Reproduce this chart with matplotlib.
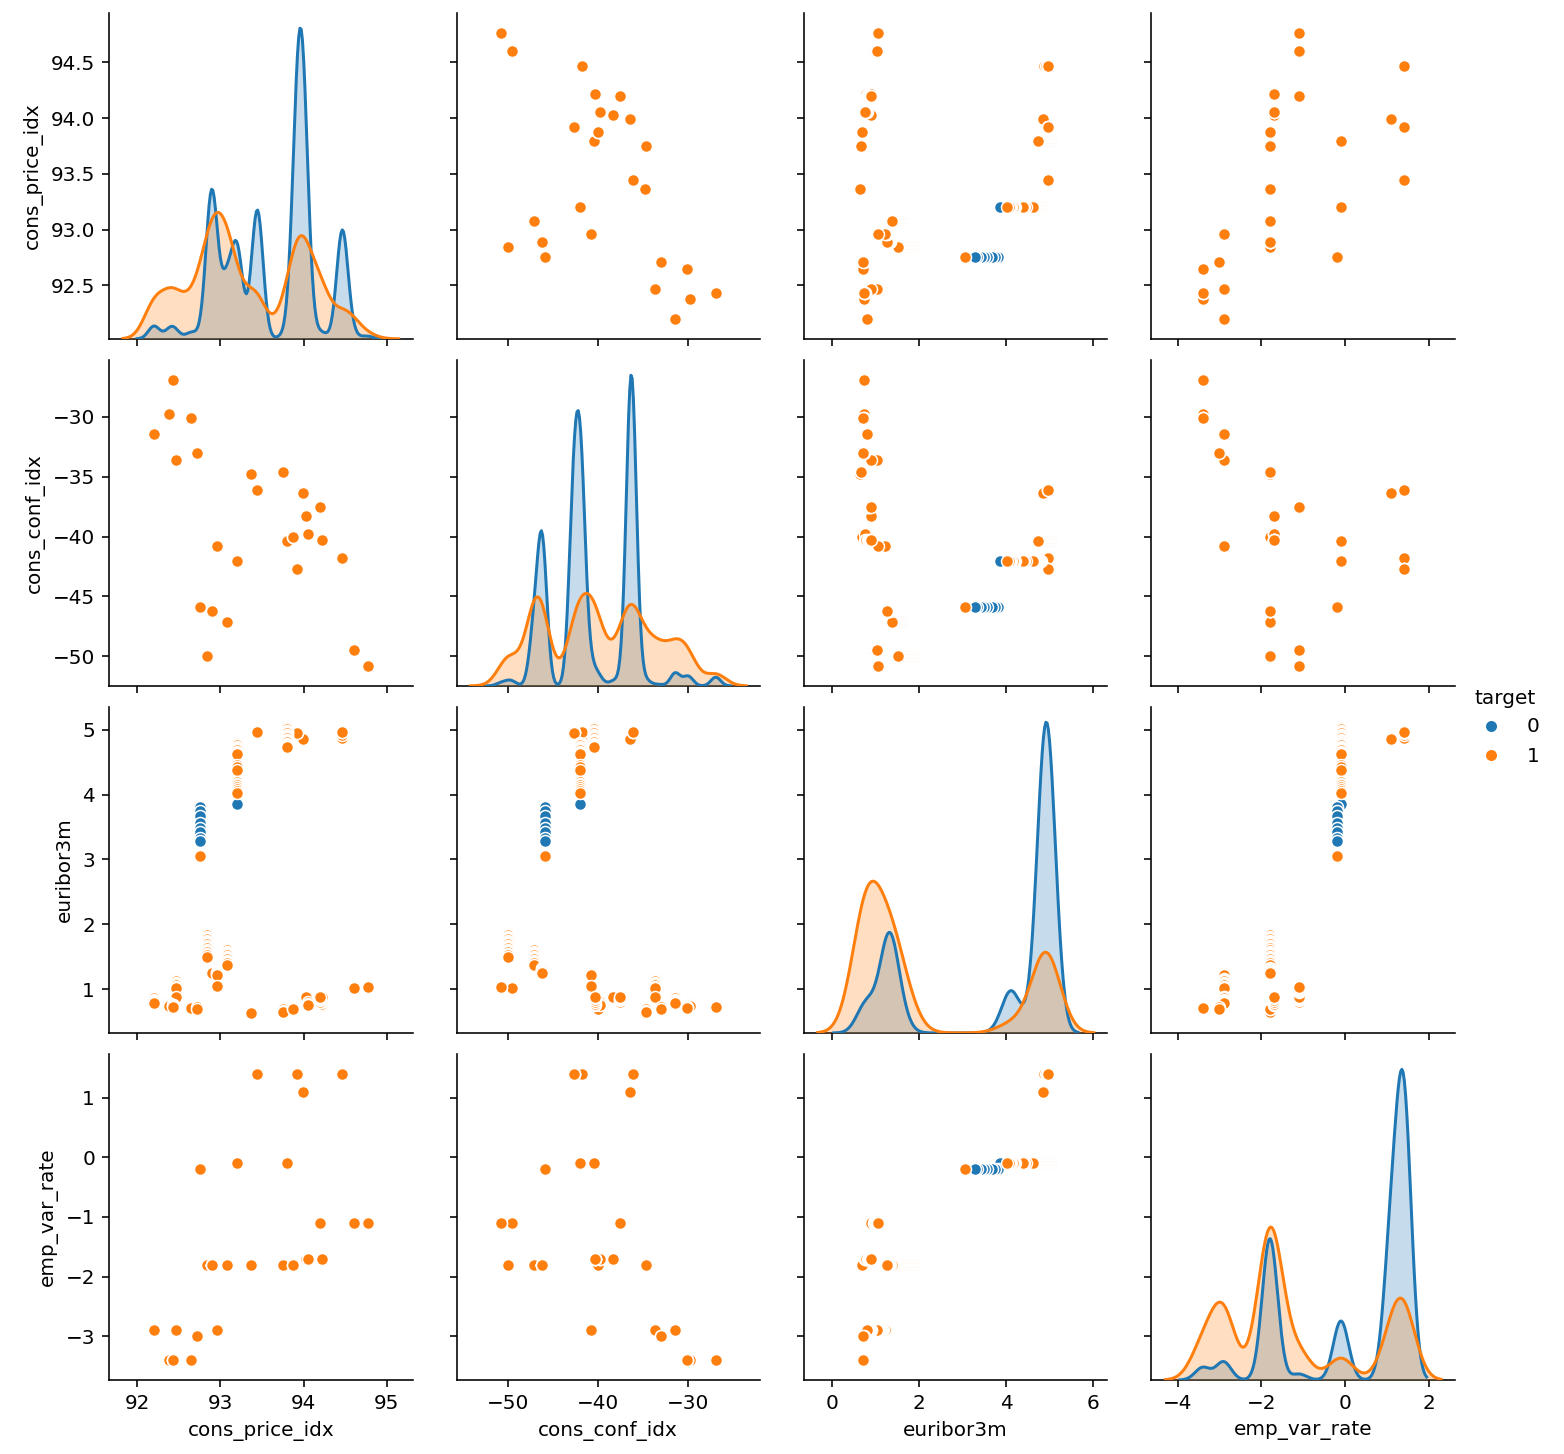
import numpy as np
import matplotlib
matplotlib.use("Agg")
import matplotlib.pyplot as plt
from matplotlib.lines import Line2D

# one entry per campaign month, in date order (May 2008 -> Nov 2010)
cons_price_idx = [93.994, 94.465, 93.918, 93.444, 93.798, 93.2, 92.756, 92.843, 93.075,
                  92.893, 92.963, 92.469, 92.201, 92.379, 92.431, 92.649, 92.713, 93.369,
                  93.749, 93.876, 94.027, 94.055, 94.215, 94.199, 94.601, 94.767]
cons_conf_idx = [-36.4, -41.8, -42.7, -36.1, -40.4, -42.0, -45.9, -50.0, -47.1,
                 -46.2, -40.8, -33.6, -31.4, -29.8, -26.9, -30.1, -33.0, -34.8,
                 -34.6, -40.0, -38.3, -39.8, -40.3, -37.5, -49.5, -50.8]
emp_var_rate = [1.1, 1.4, 1.4, 1.4, -0.1, -0.1, -0.2, -1.8, -1.8,
                -1.8, -2.9, -2.9, -2.9, -3.4, -3.4, -3.4, -3.0, -1.8,
                -1.8, -1.8, -1.7, -1.7, -1.7, -1.1, -1.1, -1.1]

# euribor3m values seen inside each month, in the order the rows appear
euribor3m = [
    [4.866, 4.864, 4.86, 4.857, 4.855],
    [4.86, 4.866, 4.912, 4.96, 4.961, 4.962, 4.967],
    [4.968, 4.962, 4.958, 4.955],
    [4.968, 4.966, 4.963],
    [5.045, 5.025, 5.005, 4.985, 4.965, 4.945, 4.925, 4.905, 4.885, 4.865, 4.845,
     4.825, 4.805, 4.785, 4.765, 4.745, 4.73],
    [4.8, 4.78, 4.76, 4.74, 4.72, 4.70, 4.68, 4.66, 4.64, 4.62, 4.45, 4.42, 4.38,
     4.2, 4.17, 4.15, 4.12, 4.09, 4.06, 4.03, 3.853],
    [3.816, 3.743, 3.669, 3.563, 3.488, 3.428, 3.329, 3.282, 3.053],
    [1.85, 1.83, 1.81, 1.79, 1.77, 1.75, 1.73, 1.71, 1.69, 1.67, 1.65, 1.63,
     1.61, 1.59, 1.57, 1.55, 1.53, 1.50],
    [1.6, 1.58, 1.56, 1.54, 1.52, 1.50, 1.48, 1.46, 1.44, 1.42, 1.40, 1.37],
    [1.334, 1.313, 1.299, 1.291, 1.281, 1.266, 1.25],
    [1.262, 1.25, 1.235, 1.22, 1.05],
    [1.16, 1.14, 1.12, 1.10, 1.08, 1.06, 1.04, 1.02, 0.88],
    [0.884, 0.861, 0.84, 0.82, 0.80, 0.79],
    [0.79, 0.77, 0.75, 0.74],
    [0.76, 0.75, 0.74, 0.73],
    [0.73, 0.72, 0.71],
    [0.72, 0.70],
    [0.655, 0.646, 0.635],
    [0.69, 0.67, 0.65],
    [0.704, 0.697, 0.69],
    [0.86, 0.87, 0.885],
    [0.8, 0.78, 0.75],
    [0.75, 0.78, 0.81, 0.84, 0.87, 0.88],
    [0.8, 0.83, 0.85, 0.87, 0.884],
    [0.95, 0.97, 0.99, 1.0, 1.02],
    [1.03, 1.04],
]

# number of clients per euribor value, target = 0
count_no = [
    [1480, 1480, 1480, 1480, 1480],
    [500, 500, 500, 700, 700, 700, 600],
    [1600, 1600, 1600, 1600],
    [1600, 1650, 1650],
    [2, 2, 2, 2, 2, 2, 2, 2, 2, 2, 2, 2, 2, 2, 2, 2, 1],
    [8, 8, 8, 8, 8, 8, 8, 8, 10, 20, 30, 30, 30, 300, 400, 450, 500, 500, 500, 400, 110],
    [1, 1, 1, 1, 1, 1, 1, 2, 0],
    [6, 6, 6, 6, 6, 6, 6, 6, 6, 6, 6, 6, 6, 6, 6, 6, 7, 7],
    [130, 140, 150, 160, 160, 170, 170, 170, 170, 170, 170, 180],
    [700, 800, 900, 900, 800, 700, 550],
    [100, 100, 100, 100, 90],
    [4, 4, 4, 4, 4, 4, 4, 4, 3],
    [80, 80, 80, 80, 85, 85],
    [38, 38, 38, 39],
    [80, 80, 85, 85],
    [76, 76, 78],
    [15, 15],
    [50, 50, 50],
    [25, 25, 25],
    [33, 33, 34],
    [53, 53, 54],
    [52, 52, 51],
    [21, 21, 22, 22, 22, 22],
    [24, 24, 24, 24, 24],
    [24, 24, 24, 24, 24],
    [50, 50],
]

# number of clients per euribor value, target = 1
count_yes = [
    [69, 69, 69, 68, 68],
    [24, 24, 24, 25, 25, 25, 25],
    [72, 72, 71, 71],
    [86, 86, 86],
    [3, 3, 3, 3, 3, 3, 3, 3, 2, 2, 2, 2, 2, 2, 2, 2, 2],
    [6, 6, 6, 6, 6, 6, 6, 6, 6, 12, 10, 10, 10, 14, 14, 14, 14, 14, 14, 30, 0],
    [0, 0, 0, 0, 0, 0, 0, 0, 1],
    [9, 9, 9, 9, 9, 9, 9, 9, 9, 9, 9, 9, 9, 9, 9, 9, 9, 17],
    [35, 38, 40, 42, 42, 44, 44, 45, 45, 45, 45, 50],
    [50, 60, 70, 70, 70, 60, 49],
    [45, 45, 45, 45, 49],
    [14, 14, 14, 14, 14, 14, 15, 22, 22],
    [45, 45, 45, 45, 50, 50],
    [28, 28, 29, 29],
    [28, 28, 29, 29],
    [43, 43, 43],
    [70, 73],
    [38, 38, 38],
    [33, 33, 34],
    [38, 38, 38],
    [24, 24, 24],
    [24, 24, 24],
    [30, 30, 30, 31, 31, 31],
    [36, 36, 37, 37, 37],
    [17, 17, 17, 17, 18],
    [14, 15],
]

variables = ["cons_price_idx", "cons_conf_idx", "euribor3m", "emp_var_rate"]
targets = [0, 1]
colors = ["#1f77b4", "#ff7f0e"]


def build_rows(counts):
    """unique rows of one target class with their client counts"""
    cols = {v: [] for v in variables}
    weights = []
    for m, eurs in enumerate(euribor3m):
        for e, c in zip(eurs, counts[m]):
            if c <= 0:
                continue
            cols["cons_price_idx"].append(cons_price_idx[m])
            cols["cons_conf_idx"].append(cons_conf_idx[m])
            cols["euribor3m"].append(e)
            cols["emp_var_rate"].append(emp_var_rate[m])
            weights.append(c)
    return {k: np.array(v, dtype=float) for k, v in cols.items()}, np.array(weights, float)


def kde_curve(values, weights):
    """weighted gaussian kde, scott bandwidth on the full client count"""
    n = weights.sum()
    mean = np.average(values, weights=weights)
    std = np.sqrt(np.average((values - mean) ** 2, weights=weights))
    bw = std * n ** (-1 / 5)
    grid = np.linspace(values.min() - 3 * bw, values.max() + 3 * bw, 200)
    z = (grid[:, None] - values[None, :]) / bw
    dens = (weights[None, :] * np.exp(-0.5 * z ** 2)).sum(axis=1)
    dens /= n * bw * np.sqrt(2 * np.pi)
    return grid, dens


rows = [build_rows(count_no), build_rows(count_yes)]

fig, axes = plt.subplots(4, 4, figsize=(1564 / 144, 1454 / 144), dpi=144,
                         sharex="col", sharey="row")
fig.subplots_adjust(left=0.0697, right=0.9303, bottom=0.0509, top=0.9913,
                    wspace=0.145, hspace=0.064)

for i, yvar in enumerate(variables):
    for j, xvar in enumerate(variables):
        ax = axes[i, j]
        if i == j:
            tw = ax.twinx()
            for (data, w), c in zip(rows, colors):
                gx, gy = kde_curve(data[xvar], w)
                tw.fill_between(gx, 0, gy, color=c, alpha=0.25, linewidth=0)
                tw.plot(gx, gy, color=c, linewidth=1.5)
            tw.set_ylim(bottom=0)
            tw.set_axis_off()
        else:
            for (data, w), c in zip(rows, colors):
                ax.scatter(data[xvar], data[yvar], s=36, color=c,
                           edgecolor="white", linewidth=0.75, zorder=2)
        ax.spines["top"].set_visible(False)
        ax.spines["right"].set_visible(False)

# y range of every row: data span plus a little room for the markers
for i, var in enumerate(variables):
    allv = np.concatenate([rows[0][0][var], rows[1][0][var]])
    lo, hi = allv.min(), allv.max()
    pad = 0.07 * (hi - lo)
    axes[i, 0].set_ylim(lo - pad, hi + pad)

for i, var in enumerate(variables):
    axes[i, 0].set_ylabel(var)
    axes[3, i].set_xlabel(var)

handles = [Line2D([], [], marker="o", linestyle="", color=c, markersize=4.5)
           for c in colors]
fig.legend(handles, [str(t) for t in targets], title="target", loc="center right",
           bbox_to_anchor=(0.996, 0.5), frameon=False)

fig.savefig("out.png", dpi=144)
